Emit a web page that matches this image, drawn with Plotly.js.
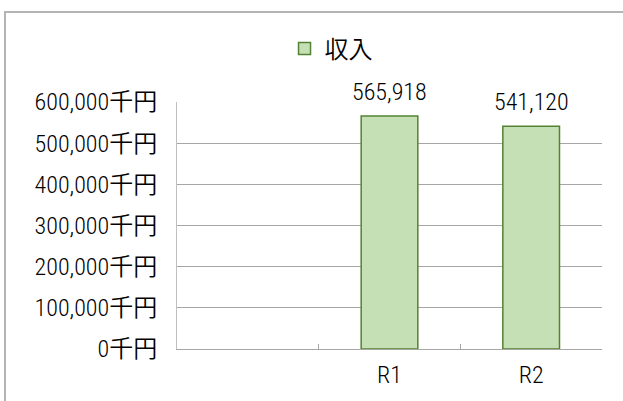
<!DOCTYPE html>
<html>
<head>
<meta charset="utf-8">
<script src="https://cdn.plot.ly/plotly-3.0.1.min.js"></script>
<style>
  html, body { margin: 0; padding: 0; background: #fff; }
  #wrap { position: relative; width: 623px; height: 401px; overflow: hidden; }
  #chart { position: absolute; left: 0; top: 0; width: 623px; height: 401px; }
  #frame { position: absolute; left: 4px; top: 11px; width: 700px; height: 500px;
           border-left: 2px solid #b4b4b4; border-top: 2px solid #b4b4b4; pointer-events: none; }
</style>
</head>
<body>
<div id="wrap">
  <div id="chart"></div>
  <div id="frame"></div>
</div>
<script>
// ---- data ----
const categories = [' ', 'R1', 'R2'];
const values = [null, 565918, 541120];
const seriesName = '収入';
const yTickVals = [0, 100000, 200000, 300000, 400000, 500000, 600000];
const yTickText = ['0千円', '100,000千円', '200,000千円', '300,000千円', '400,000千円', '500,000千円', '600,000千円'];

const FONT = '"Roboto Condensed", "Noto Sans CJK JP", sans-serif';
const SIZE = 24;
const WEIGHT = 350;

const fmt = v => v.toLocaleString('en-US');

const annotations = [];
categories.forEach((c, i) => {
  if (values[i] === null) return;
  annotations.push({
    x: c, y: values[i], xref: 'x', yref: 'y',
    text: fmt(values[i]),
    showarrow: false,
    yanchor: 'middle', yshift: 24,
    bgcolor: '#ffffff', borderpad: 4,
    font: { family: FONT, size: SIZE, color: '#000', weight: WEIGHT }
  });
});

const trace = {
  type: 'bar',
  name: seriesName,
  x: categories,
  y: values,
  width: 0.4,
  marker: { color: '#c5e0b4', line: { color: '#548235', width: 1.5 } },
  hoverinfo: 'skip'
};

const layout = {
  width: 623, height: 401,
  margin: { l: 177, r: 21, t: 102, b: 52 },
  paper_bgcolor: '#fff', plot_bgcolor: '#fff',
  font: { family: FONT, size: SIZE, color: '#000', weight: WEIGHT },
  showlegend: true,
  legend: {
    orientation: 'h', x: 0.253, xanchor: 'left', y: 1.215, yanchor: 'middle',
    font: { family: FONT, size: SIZE, color: '#000', weight: WEIGHT },
    bgcolor: 'rgba(0,0,0,0)'
  },
  xaxis: {
    type: 'category', categoryorder: 'array', categoryarray: categories,
    range: [-0.5, 2.5],
    showgrid: false, zeroline: false,
    showline: true, linecolor: '#a6a6a6', linewidth: 1,
    ticks: 'inside', tickson: 'boundaries', ticklen: 5, tickcolor: '#a6a6a6',
    ticklabelstandoff: 4,
    tickfont: { family: FONT, size: SIZE, color: '#000', weight: WEIGHT },
    fixedrange: true
  },
  yaxis: {
    range: [0, 600000],
    tickvals: yTickVals, ticktext: yTickText,
    showgrid: true, gridcolor: '#a6a6a6', gridwidth: 1,
    zeroline: false,
    showline: true, linecolor: '#bfbfbf', linewidth: 1,
    ticks: '', ticklabelstandoff: 14,
    tickfont: { family: FONT, size: SIZE, color: '#000', weight: WEIGHT },
    fixedrange: true
  },
  annotations: annotations
};

Plotly.newPlot('chart', [trace], layout, { displayModeBar: false, staticPlot: true });
</script>
</body>
</html>
